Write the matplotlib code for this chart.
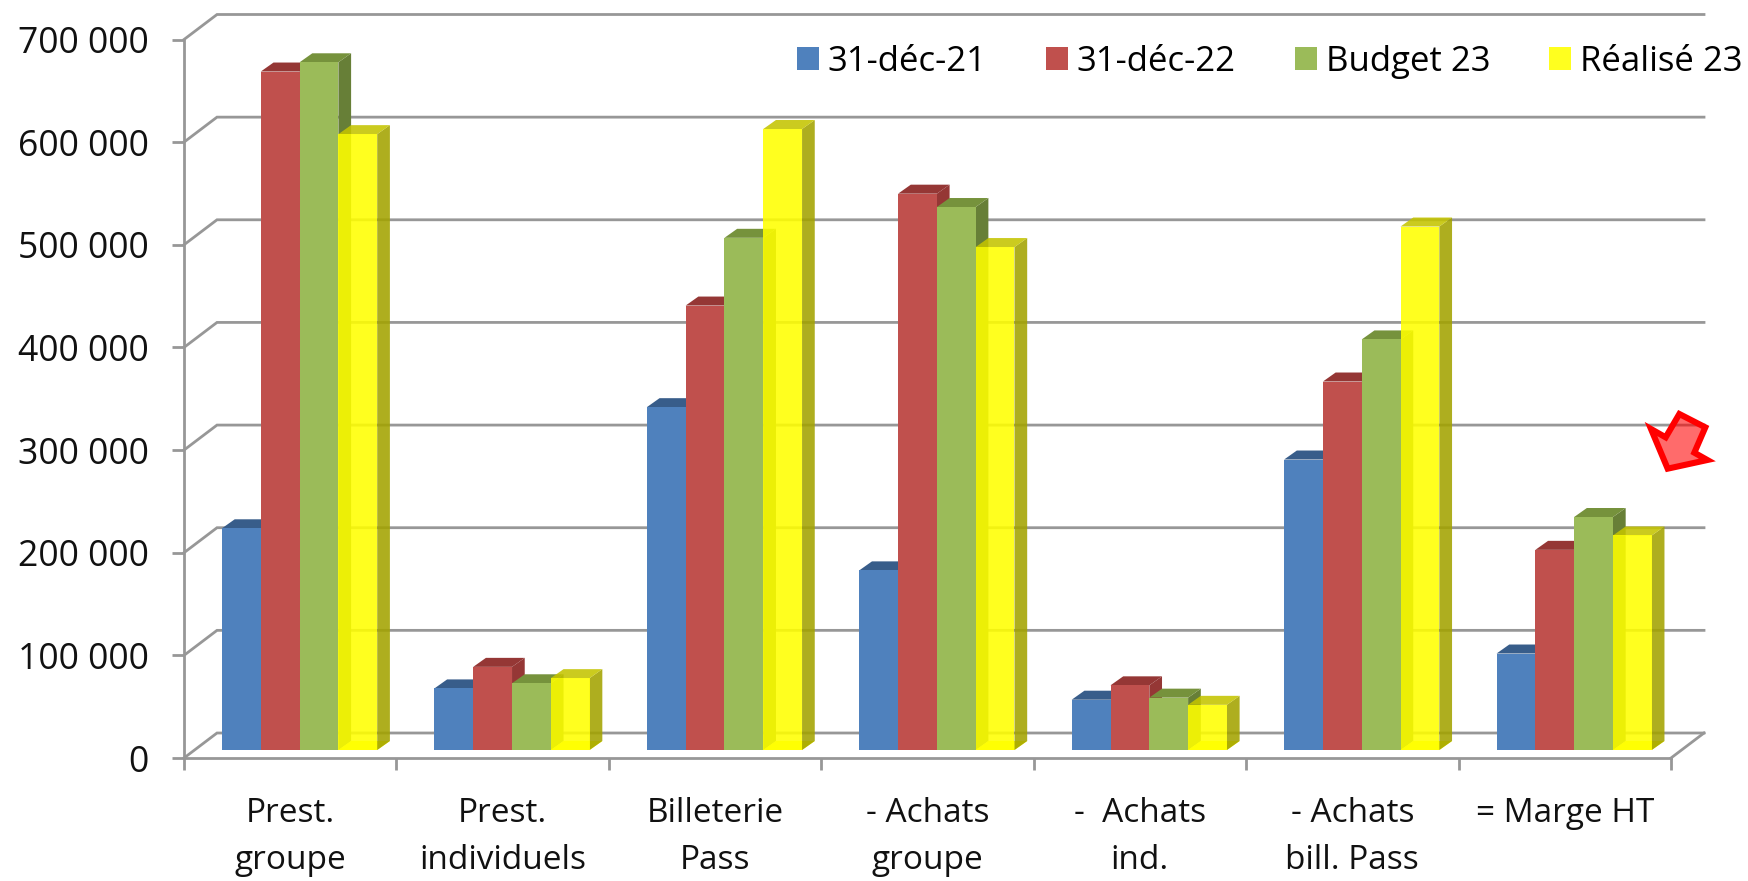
import matplotlib
matplotlib.use("Agg")
import matplotlib.pyplot as plt
from matplotlib.patches import Polygon

plt.rcParams['font.family'] = ['Open Sans', 'DejaVu Sans']

categories = ["Prest.\ngroupe", "Prest.\nindividuels", "Billeterie\nPass", "- Achats\ngroupe",
              "-  Achats\nind.", "- Achats\nbill. Pass", "= Marge HT"]
dec21 = [216000, 60000, 334000, 175000, 49000, 283000, 94000]
dec22 = [661000, 81000, 433000, 542000, 63000, 359000, 195000]
budget23 = [670000, 65000, 499000, 529000, 51000, 400000, 227000]
realise23 = [600000, 70000, 605000, 490000, 44000, 510000, 209000]
y_ticks = [0, 100000, 200000, 300000, 400000, 500000, 600000, 700000]
y_labels = ["0", "100 000", "200 000", "300 000", "400 000", "500 000", "600 000", "700 000"]

W, H = 1749, 881
fig = plt.figure(figsize=(W / 100, H / 100), dpi=100)
# axes = front plane of the fake 3d box, in pixels from the reference
ax = fig.add_axes([184 / W, 1 - 758 / H, (1671 - 184) / W, (758 - 39.5) / H])
ax.set_xlim(0, 7)
ax.set_ylim(0, 700000)

px_x = 7 / (1671 - 184)
px_y = 700000 / (758 - 39.5)
grid_col = "#979797"

# back wall grid and the diagonals on the side wall
wall_dx, wall_dy = 33 * px_x, 25 * px_y
for t in y_ticks:
    ax.plot([0, wall_dx, 7 + wall_dx], [t, t + wall_dy, t + wall_dy], color=grid_col, lw=2, clip_on=False, zorder=1,
            solid_joinstyle="miter")
ax.plot([7, 7 + wall_dx], [0, wall_dy], color=grid_col, lw=2, clip_on=False, zorder=1)

series = [
    ("31-déc-21", dec21, "#4F81BD", "#385D8A", "#385D8A", 1),
    ("31-déc-22", dec22, "#C0504D", "#953735", "#953735", 1),
    ("Budget 23", budget23, "#9BBB59", "#76923C", "#677F37", 1),
    ("Réalisé 23", realise23, "#FFFF00", "#C4C400", "#A3A300", 0.88),
]

bar_w = 38.8 * px_x
start = 38 * px_x
base = 8 * px_y
depth_x, depth_y = 12.7 * px_x, 9 * px_y

z = 3
for k, (name, vals, col, top_col, side_col, a) in enumerate(series):
    for i, v in enumerate(vals):
        x0 = i + start + k * bar_w
        x1 = x0 + bar_w
        y1 = base + v
        if a < 1:
            # transparent yellow: floor shows through the front
            ax.add_patch(Polygon([(x0, base), (x0 + depth_x, base + depth_y), (x1 + depth_x, base + depth_y), (x1, base)],
                                 facecolor="#FFFF00", edgecolor="none", alpha=0.9, clip_on=False, zorder=z))
        # side and top faces
        ax.add_patch(Polygon([(x1, base), (x1 + depth_x, base + depth_y), (x1 + depth_x, y1 + depth_y), (x1, y1)],
                             facecolor=side_col, edgecolor="none", alpha=a, clip_on=False, zorder=z))
        ax.add_patch(Polygon([(x0, y1), (x0 + depth_x, y1 + depth_y), (x1 + depth_x, y1 + depth_y), (x1, y1)],
                             facecolor=top_col, edgecolor="none", alpha=a, clip_on=False, zorder=z))
    ax.bar([i + start + k * bar_w for i in range(7)], vals, width=bar_w, bottom=base, align="edge",
           color=col, alpha=a, label=name, zorder=z + 1, clip_on=False)
    z += 2

for s in ["top", "right"]:
    ax.spines[s].set_visible(False)
for s in ["left", "bottom"]:
    ax.spines[s].set_color(grid_col)
    ax.spines[s].set_linewidth(2)

ax.set_yticks(y_ticks)
ax.set_yticklabels(y_labels, fontsize=25.6, color="#111111")
ax.tick_params(axis="y", length=8.5, width=2, color=grid_col, pad=17)
ax.set_xticks(range(8))
ax.set_xticklabels([])
ax.tick_params(axis="x", which="major", length=8.5, width=2, color=grid_col)
ax.set_xticks([i + 0.5 for i in range(7)], minor=True)
ax.set_xticklabels(categories, minor=True, fontsize=24, color="#111111", linespacing=1.57)
ax.tick_params(axis="x", which="minor", length=0, pad=28)

ax.legend(loc="upper left", bbox_to_anchor=(797 / W, 1 - 45 / H), bbox_transform=fig.transFigure, ncol=4, frameon=False,
          fontsize=25, handlelength=0.63, handleheight=0.63, handletextpad=0.26, columnspacing=1.7, borderpad=0, borderaxespad=0)

# red block arrow drawn on the slide
arrow_zoom = [(603, 147), (647, 172), (688, 102), (766, 142), (733, 218), (772, 240), (653, 266)]
arrow_pts = [((1450 + x / 3) / W, 1 - (380 + y / 3) / H) for x, y in arrow_zoom]
fig.add_artist(Polygon(arrow_pts, closed=True, transform=fig.transFigure, facecolor=(1, 0, 0, 0.58),
                       edgecolor="#FF0000", lw=4.4, joinstyle="miter"))

fig.savefig("out.png", dpi=100)
